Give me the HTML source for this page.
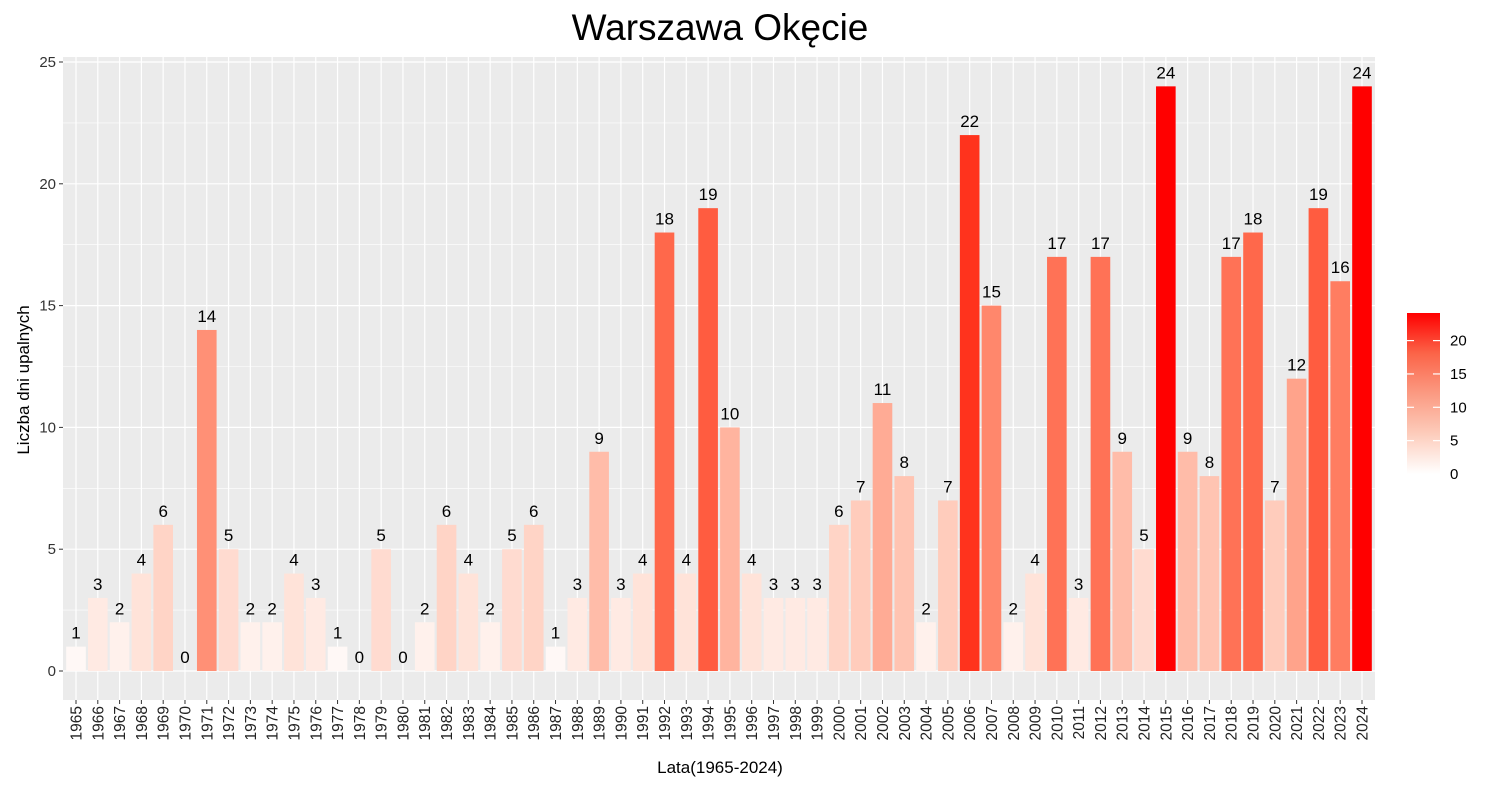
<!DOCTYPE html>
<html><head><meta charset="utf-8"><style>
body{margin:0;background:#fff;font-family:"Liberation Sans",sans-serif}
svg text{font-family:"Liberation Sans",sans-serif}
</style></head><body>
<svg id="chart" width="1490" height="785">
<defs><linearGradient id="lg" x1="0" y1="1" x2="0" y2="0">
<stop offset="0" stop-color="#ffffff"/><stop offset="0.25" stop-color="#fdccbb"/><stop offset="0.5" stop-color="#fb9a82"/><stop offset="0.75" stop-color="#fb6448"/><stop offset="1" stop-color="#ff0000"/></linearGradient></defs>
<text x="720" y="40" font-size="37" text-anchor="middle" fill="#000">Warszawa Okęcie</text>
<g id="plot"></g>
<text x="720" y="773" font-size="17" text-anchor="middle">Lata(1965-2024)</text>
<text transform="translate(29,380) rotate(-90)" font-size="17" text-anchor="middle">Liczba dni upalnych</text>
<g>
<rect x="1407" y="313" width="33" height="161" fill="url(#lg)"/>
<g id="leg"></g>
</g>
</svg>
<script>
const years=[];for(let y=1965;y<=2024;y++)years.push(y);
const values=[1,3,2,4,6,0,14,5,2,2,4,3,1,0,5,0,2,6,4,2,5,6,1,3,9,3,4,18,4,19,10,4,3,3,3,6,7,11,8,2,7,22,15,2,4,17,3,17,9,5,24,9,8,17,18,7,12,19,16,24];
const yTicks=[0,5,10,15,20,25];
const legTicks=[0,5,10,15,20];
const NS="http://www.w3.org/2000/svg";
const L=63,R=1375,T=57,B=700;
const x=i=>76+i*(1362-76)/59;
const y=v=>671-v*24.36;
const step=(1362-76)/59,bw=step*0.9;
const col=v=>{const t=v/24;const g=Math.round(255*Math.pow(1-t,0.65));const b=Math.round(255*Math.pow(1-t,0.88));return `rgb(255,${g},${b})`;};
const g=document.getElementById('plot');
function mk(tag,a,p){const e=document.createElementNS(NS,tag);for(const k in a)e.setAttribute(k,a[k]);(p||g).appendChild(e);return e;}
const bg=mk('rect',{x:L,y:T,width:R-L,height:B-T,fill:'#ebebeb'});


for(let v=2.5;v<25;v+=5){const l=mk('line',{x1:L,x2:R,y1:y(v),y2:y(v),stroke:'#fff','stroke-width':0.6});

}
yTicks.forEach(v=>{const l=mk('line',{x1:L,x2:R,y1:y(v),y2:y(v),stroke:'#fff','stroke-width':1.2});


const tk=mk('line',{x1:L-4,x2:L,y1:y(v),y2:y(v),stroke:'#333'});


const t=mk('text',{x:L-7,y:y(v)+5,'font-size':15,'text-anchor':'end',fill:'#333'});t.textContent=v;

});
years.forEach((yr,i)=>{const cx=x(i);
const l=mk('line',{x1:cx,x2:cx,y1:T,y2:B,stroke:'#fff','stroke-width':1.2});


const tk=mk('line',{x1:cx,x2:cx,y1:B,y2:B+4,stroke:'#333'});


const t=mk('text',{transform:`translate(${cx+5.5},${B+6}) rotate(-90)`,'font-size':15.5,'text-anchor':'end',fill:'#222'});t.textContent=yr;

});
values.forEach((v,i)=>{const cx=x(i);
const b=mk('rect',{x:cx-bw/2,y:y(v),width:bw,height:y(0)-y(v),fill:col(v)});


const t=mk('text',{x:cx,y:y(v)-8,'font-size':17,'text-anchor':'middle',fill:'#000'});t.textContent=v;

});
const lg=document.getElementById('leg');
const ly=v=>474-v*6.67;
legTicks.forEach(v=>{mk('line',{x1:1407,x2:1414,y1:ly(v),y2:ly(v),stroke:'#fff','stroke-width':1.2},lg);
mk('line',{x1:1433,x2:1440,y1:ly(v),y2:ly(v),stroke:'#fff','stroke-width':1.2},lg);
const t=mk('text',{x:1450,y:ly(v)+5,'font-size':15,fill:'#000'},lg);t.textContent=v;

});
</script>
</body></html>
